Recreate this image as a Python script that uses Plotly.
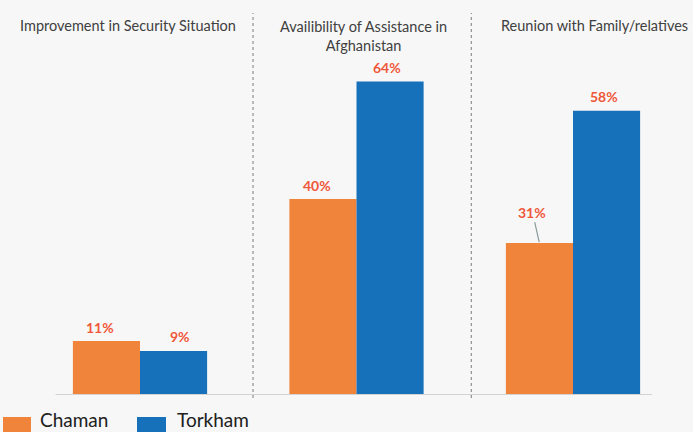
import plotly.graph_objects as go

categories = ["Improvement in Security Situation",
              "Availibility of Assistance in<br>Afghanistan",
              "Reunion with Family/relatives"]
series_names = ["Chaman", "Torkham"]
chaman = [11, 40, 31]
torkham = [9, 64, 58]
colors = {"Chaman": "#F0843A", "Torkham": "#1770BA"}

W, H = 693, 432
BASE_PX = 395          # pixel row of the baseline
PX_PER_UNIT_Y = 4.9
CAT_PX = 216.5
FIRST_CENTER_PX = 140

x_idx = list(range(len(categories)))
x_range = [-FIRST_CENTER_PX / CAT_PX, (W - FIRST_CENTER_PX) / CAT_PX]
y_range = [0, BASE_PX / PX_PER_UNIT_Y]

fig = go.Figure()
for name, vals in zip(series_names, [chaman, torkham]):
    fig.add_trace(go.Bar(x=x_idx, y=vals, name=name, marker_color=colors[name],
                         marker_line_width=0, showlegend=False))

def py(p):
    return (BASE_PX - p) / BASE_PX

def pxx(p):
    return p / W

ann = []
label_font = dict(family="Lato", size=14, color="#F0573A")
bar_off = 0.155
for i, v in enumerate(chaman):
    if i == 2:
        ann.append(dict(x=i - bar_off, y=v, xref="x", yref="y", text=f"<b>{v}%</b>",
                        showarrow=True, arrowhead=0, arrowcolor="#8A9A9A", arrowwidth=1.2,
                        ax=-7, ay=-31, standoff=1, font=label_font))
    else:
        ann.append(dict(x=i - bar_off, y=v, xref="x", yref="y", text=f"<b>{v}%</b>",
                        showarrow=False, yshift=14, yanchor="middle", font=label_font,
                        xshift=-6))
for i, v in enumerate(torkham):
    ann.append(dict(x=i + bar_off, y=v, xref="x", yref="y", text=f"<b>{v}%</b>",
                    showarrow=False, yshift=14, yanchor="middle", font=label_font,
                    xshift=6 if i == 0 else -3))

title_font = dict(family="Lato", size=14.5, color="#404040")
title_shift = [-12, 7, 21]
for i, c in enumerate(categories):
    ann.append(dict(x=i, y=py(25) if "<br>" not in c else py(36), xref="x", yref="paper",
                    text=c, showarrow=False, xshift=title_shift[i], yanchor="middle",
                    font=title_font, align="center"))

# legend (manual)
leg_font = dict(family="Lato", size=19, color="#202020")
shapes = []
leg_x = [(3, 31, 38), (137, 166, 175)]
for (x0, x1, tx), name in zip(leg_x, series_names):
    shapes.append(dict(type="rect", xref="paper", yref="paper", x0=pxx(x0), x1=pxx(x1),
                       y0=py(417), y1=py(440), fillcolor=colors[name], line_width=0))
    ann.append(dict(x=pxx(tx), y=py(419), xref="paper", yref="paper", text=name,
                    showarrow=False, xanchor="left", yanchor="middle", font=leg_font))

# baseline
shapes.append(dict(type="line", xref="x", yref="y", x0=-0.39, x1=2.365, y0=0, y1=0,
                   line=dict(color="#D3D3D3", width=2)))
# separators
for sx in [0.522, 1.53]:
    shapes.append(dict(type="line", xref="x", yref="paper", x0=sx, x1=sx,
                       y0=py(398), y1=py(13), line=dict(color="#7A7A7A", width=1, dash="dot")))

fig.update_layout(
    width=W, height=H,
    margin=dict(l=0, r=0, t=0, b=H - BASE_PX),
    paper_bgcolor="#F7F7F7", plot_bgcolor="#F7F7F7",
    barmode="group", bargap=0.38, bargroupgap=0,
    xaxis=dict(range=x_range, visible=False, fixedrange=True),
    yaxis=dict(range=y_range, visible=False, fixedrange=True),
    annotations=ann, shapes=shapes, showlegend=False,
)
fig.write_html("out.html", config={"displayModeBar": False},
               post_script="document.body.style.margin='0px';document.body.style.overflow='hidden';")
